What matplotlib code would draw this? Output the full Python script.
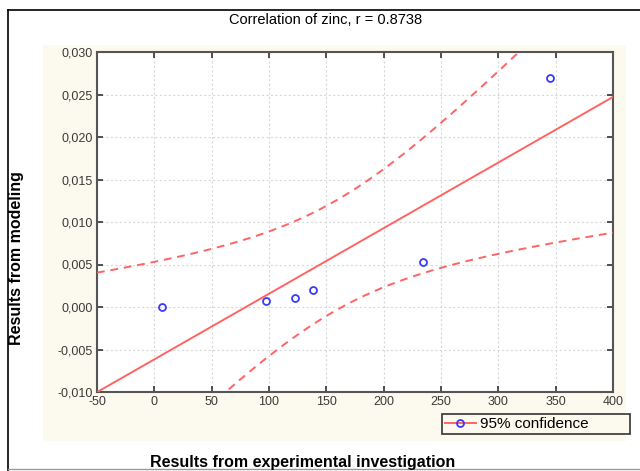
import matplotlib

matplotlib.use("Agg")
import matplotlib.pyplot as plt
from matplotlib.patches import Rectangle
from matplotlib.lines import Line2D
from matplotlib.ticker import FuncFormatter
import numpy as np

plt.rcParams["font.family"] = ["Liberation Sans", "DejaVu Sans"]
plt.rcParams["axes.unicode_minus"] = False

x_exp = np.array([6.5, 97.4, 122.7, 138.6, 234.6, 345.0])
y_mod = np.array([0.0, 0.00074, 0.00102, 0.00204, 0.00526, 0.0269])

XTICKS = [-50, 0, 50, 100, 150, 200, 250, 300, 350, 400]
YTICKS = [-0.010, -0.005, 0.000, 0.005, 0.010, 0.015, 0.020, 0.025, 0.030]
T_95 = 2.776  # t(0.975, df=4)

RED = "#ff6464"
BLUE = "#3a3aff"
CREAM = "#fcfaee"

# least-squares fit and 95% confidence band of the mean
n = len(x_exp)
xm, ym = x_exp.mean(), y_mod.mean()
sxx = ((x_exp - xm) ** 2).sum()
slope = ((x_exp - xm) * (y_mod - ym)).sum() / sxx
icpt = ym - slope * xm
resid = y_mod - (icpt + slope * x_exp)
s = np.sqrt((resid ** 2).sum() / (n - 2))

xs = np.linspace(XTICKS[0], XTICKS[-1], 300)
fit = icpt + slope * xs
half = T_95 * s * np.sqrt(1.0 / n + (xs - xm) ** 2 / sxx)

fig = plt.figure(figsize=(6.4, 4.71), dpi=100)
fig.patch.set_facecolor("white")

# cream panel behind the plot + outer frame
fig.add_artist(Rectangle((43 / 640, 1 - 441 / 471), 583 / 640, 396 / 471,
                         transform=fig.transFigure, facecolor=CREAM,
                         edgecolor="none", zorder=-5))
fig.add_artist(Line2D([8 / 640, 8 / 640], [0, 1 - 10 / 471], transform=fig.transFigure,
                      color="black", lw=1.2))
fig.add_artist(Line2D([8 / 640, 1], [1 - 10 / 471, 1 - 10 / 471], transform=fig.transFigure,
                      color="black", lw=1.2))
fig.add_artist(Line2D([8 / 640, 1], [2 / 471, 2 / 471], transform=fig.transFigure,
                      color="#999999", lw=1.0))

ax = fig.add_axes([97 / 640, 1 - 392 / 471, 516 / 640, 340 / 471])
ax.set_facecolor("white")

ax.plot(xs, fit, color=RED, lw=1.4, zorder=3)
ax.plot(xs, fit + half, color=RED, lw=1.4, ls=(0, (4, 3)), zorder=3)
ax.plot(xs, fit - half, color=RED, lw=1.4, ls=(0, (4, 3)), zorder=3)
ax.plot(x_exp, y_mod, "o", ms=5, mfc="none", mec=BLUE, mew=1.3, zorder=4)

ax.set_xlim(XTICKS[0], XTICKS[-1])
ax.set_ylim(YTICKS[0], YTICKS[-1])
ax.set_xticks(XTICKS)
ax.set_yticks(YTICKS)
ax.yaxis.set_major_formatter(FuncFormatter(lambda v, p: f"{v:.3f}".replace(".", ",")))
ax.tick_params(direction="in", top=True, right=True, length=4, width=1.2,
               color="#333333", labelsize=9, labelcolor="#3a3a3a", pad=3)
ax.grid(True, color="#d8d8d8", linestyle=(0, (2, 2)), linewidth=0.8)
for sp in ax.spines.values():
    sp.set_color("#555555")
    sp.set_linewidth(1.5)

fig.text(0.508, 1 - 20 / 471, "Correlation of zinc, r = 0.8738", ha="center", va="center",
         fontsize=10.5)
fig.text(303 / 640, 1 - 463 / 471, "Results from experimental investigation", ha="center",
         va="center", fontsize=11.5, fontweight="bold")
fig.text(17 / 640, 1 - 258 / 471, "Results from modeling", ha="center", va="center",
         rotation=90, fontsize=11.5, fontweight="bold")

handle = Line2D([], [], color=RED, lw=1.4, marker="o", ms=5, mfc="none", mec=BLUE, mew=1.3)
leg = fig.legend([handle], ["95% confidence"], loc="upper left",
                 bbox_to_anchor=(442 / 640, 1 - 438 / 471, 188 / 640, 24 / 471),
                 mode="expand", fontsize=11,
                 frameon=True, fancybox=False, edgecolor="#333333",
                 facecolor=CREAM, framealpha=1, handlelength=2.0,
                 borderpad=0.2, borderaxespad=0, handletextpad=0.3)
leg.get_frame().set_linewidth(1.2)

fig.savefig("out.png", dpi=100)
